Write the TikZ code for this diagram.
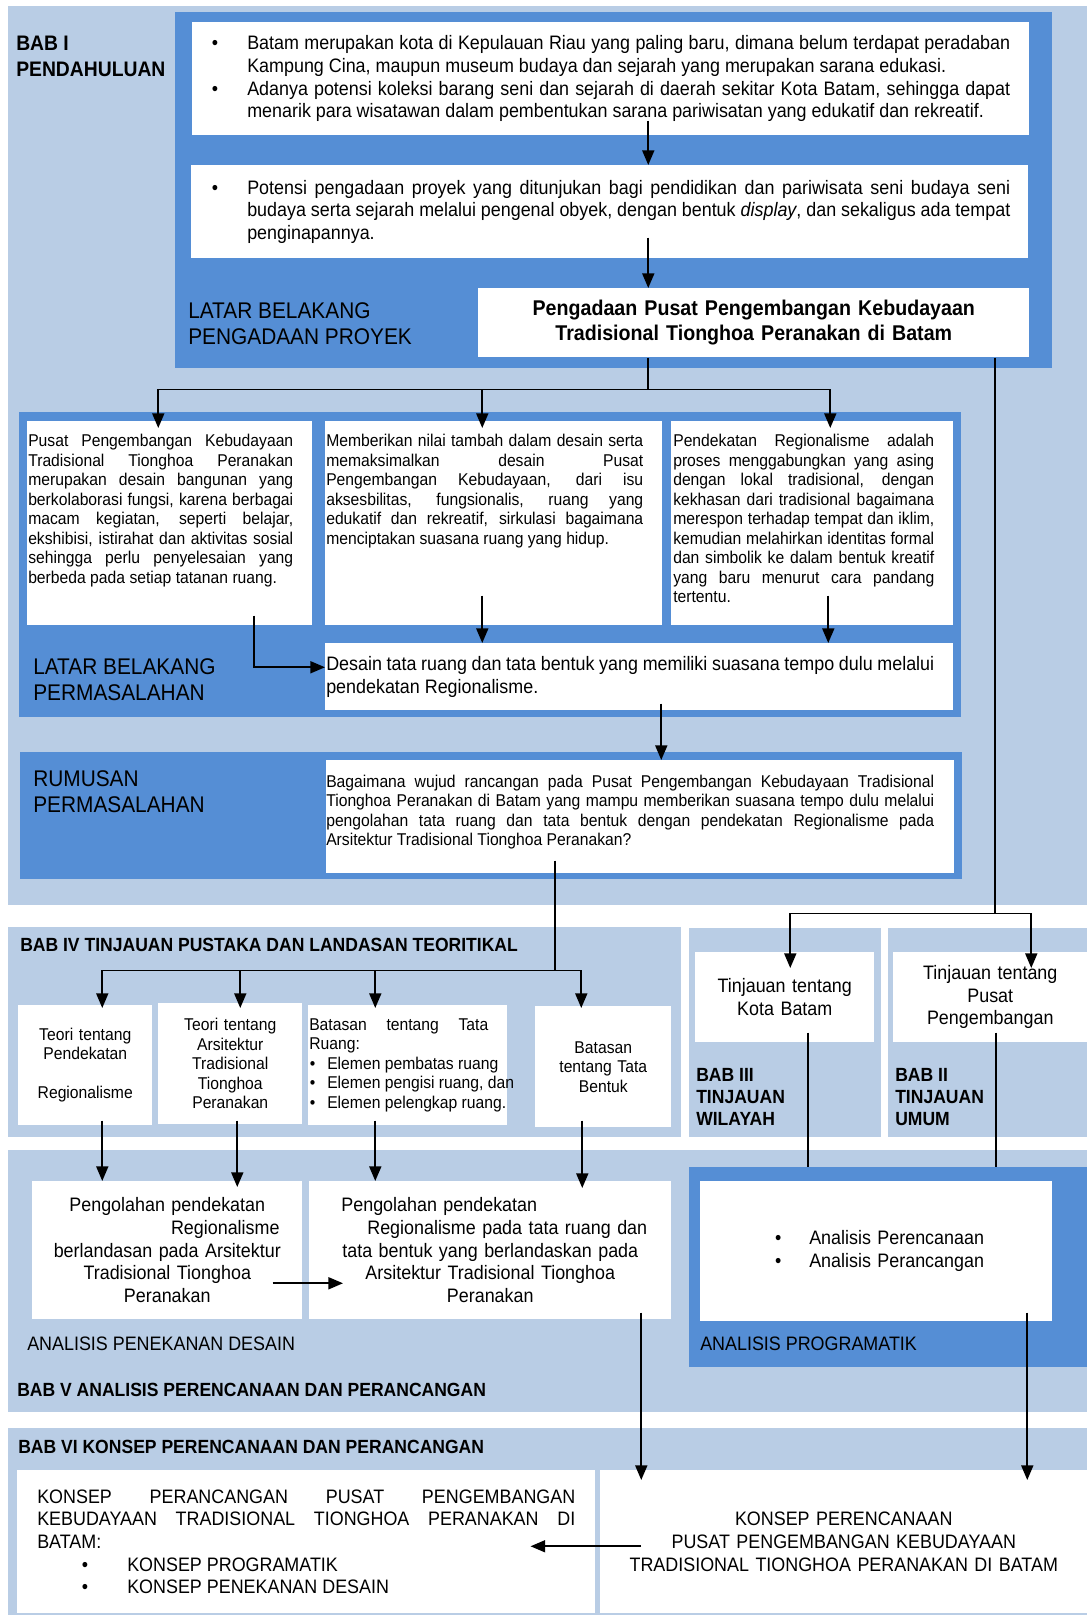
\documentclass[tikz,border=0pt]{standalone}
\usepackage{fontspec}
\setmainfont{Liberation Sans}[FakeStretch=0.92]
\usetikzlibrary{arrows.meta,calc}
\definecolor{lightb}{RGB}{185,205,229}
\definecolor{darkb}{RGB}{85,142,213}
\newlength{\px}
\setlength{\px}{0.75pt}
\hyphenpenalty=10000
\exhyphenpenalty=10000
\tolerance=10000
\hfuzz=20pt
\newcommand{\fmid}{\fontsize{14.6}{17}\selectfont}
\newcommand{\fsml}{\fontsize{12.8}{14.6}\selectfont}
\newcommand{\fbig}{\fontsize{17}{19.5}\selectfont}
\newcommand{\flab}{\fontsize{14.6}{17}\selectfont}
\newcommand{\fhead}{\fontsize{14.3}{16.5}\selectfont\bfseries}
\newcommand{\fbab}{\fontsize{15.75}{19.5}\selectfont\bfseries}
\newcommand{\ftitle}{\fontsize{16}{18.75}\selectfont\bfseries}
\newcommand{\bul}[1]{\leavevmode\llap{\textbullet\hspace{#1\px}}}

\begin{document}
\begin{tikzpicture}[x=0.75pt,y=-0.75pt,
    wbox/.style={fill=white, inner sep=0pt, anchor=north west, font=\fmid},
    boxsize/.style 2 args={minimum width=#1\px, text width=#1\px, minimum height=#2\px},
    lbl/.style={anchor=north west, inner sep=0pt, align=left},
    arr/.style={line width=1.4pt, -{Triangle[length=11pt,width=9pt]}},
    ln/.style={line width=1.4pt}]
    \fill[white] (0,0) rectangle (1087,1615);
    \useasboundingbox (0,0) rectangle (1087,1615);

    % panels
    \fill[lightb] (8,6) rectangle (1087,905);	%bab I
    \fill[lightb] (8,927) rectangle (681,1137);	%bab IV
    \fill[lightb] (689,928) rectangle (881,1137);	%bab III
    \fill[lightb] (888,928) rectangle (1087,1137);	%bab II
    \fill[lightb] (8,1150) rectangle (1087,1412);	%bab V
    \fill[lightb] (8,1428) rectangle (1087,1615);	%bab VI
    \fill[darkb] (175,12) rectangle (1052,368);
    \fill[darkb] (19,412) rectangle (961,717);
    \fill[darkb] (20,752) rectangle (962,879);
    \fill[darkb] (689,1167) rectangle (1087,1367);

    % labels
    \node[lbl, font=\fbab] (bab1) at (16,36) {BAB I\\PENDAHULUAN};
    \node[lbl, font=\fbig] (lbpp) at (188,302) {LATAR BELAKANG\\PENGADAAN PROYEK};
    \node[lbl, font=\fbig] (lbpm) at (33,658) {LATAR BELAKANG\\PERMASALAHAN};
    \node[lbl, font=\fbig] (rmlbl) at (33,770) {RUMUSAN\\PERMASALAHAN};
    \node[lbl, font=\fhead] (bab4) at (20,938) {BAB IV TINJAUAN PUSTAKA DAN LANDASAN TEORITIKAL};
    \node[lbl, font=\fhead] (bab3) at (696,1068) {BAB III\\TINJAUAN\\WILAYAH};
    \node[lbl, font=\fhead] (bab2) at (895,1068) {BAB II\\TINJAUAN\\UMUM};
    \node[lbl, font=\flab] (anpd) at (27,1337) {ANALISIS PENEKANAN DESAIN};
    \node[lbl, font=\flab] (anpg) at (700,1337) {ANALISIS PROGRAMATIK};
    \node[lbl, font=\fhead] (bab5) at (17,1383) {BAB V ANALISIS PERENCANAAN DAN PERANCANGAN};
    \node[lbl, font=\fhead] (bab6) at (18,1440) {BAB VI KONSEP PERENCANAAN DAN PERANCANGAN};

    % latar belakang pengadaan proyek
    \node[wbox, boxsize={837}{113}, align=justify] (ba) at (192,22) {\leftskip=55\px \rightskip=19\px
        \bul{29}Batam merupakan kota di Kepulauan Riau yang paling baru, dimana belum terdapat peradaban\linebreak
        Kampung Cina, maupun museum budaya dan sejarah yang merupakan sarana edukasi.\par
        \bul{29}Adanya potensi koleksi barang seni dan sejarah di daerah sekitar Kota Batam, sehingga dapat\linebreak
        menarik para wisatawan dalam pembentukan sarana pariwisatan yang edukatif dan rekreatif.\par};
    \node[wbox, boxsize={837}{93}, align=justify] (bb) at (191,165) {\leftskip=56\px \rightskip=18\px
        \bul{29}Potensi pengadaan proyek yang ditunjukan bagi pendidikan dan pariwisata seni budaya seni\linebreak
        budaya serta sejarah melalui pengenal obyek, dengan bentuk \textit{display}, dan sekaligus ada tempat\linebreak
        penginapannya.\par};
    \node[wbox, boxsize={551}{69}, align=center, font=\ftitle] (bc) at (478,288)
        {Pengadaan Pusat Pengembangan Kebudayaan\\Tradisional Tionghoa Peranakan di Batam};

    % latar belakang permasalahan
    \node[wbox, boxsize={285}{204}, font=\fsml, align=justify, text height=25.5\px, text depth=178.5\px] (pa) at (27,421)
        {\leftskip=1\px \rightskip=19\px Pusat Pengembangan Kebudayaan\linebreak Tradisional Tionghoa Peranakan\linebreak
        merupakan desain bangunan yang\linebreak berkolaborasi fungsi, karena berbagai\linebreak
        macam kegiatan, seperti belajar,\linebreak ekshibisi, istirahat dan aktivitas sosial\linebreak
        sehingga perlu penyelesaian yang\linebreak berbeda pada setiap tatanan ruang.\par};
    \node[wbox, boxsize={337}{204}, font=\fsml, align=justify, text height=25.5\px, text depth=178.5\px] (pb) at (325,421)
        {\leftskip=1\px \rightskip=19\px Memberikan nilai tambah dalam desain serta\linebreak memaksimalkan desain Pusat\linebreak
        Pengembangan Kebudayaan, dari isu\linebreak aksesbilitas, fungsionalis, ruang yang\linebreak
        edukatif dan rekreatif, sirkulasi bagaimana\linebreak menciptakan suasana ruang yang hidup.\par};
    \node[wbox, boxsize={282}{204}, font=\fsml, align=justify, text height=25.5\px, text depth=178.5\px] (pc) at (671,421)
        {\leftskip=2\px \rightskip=19\px Pendekatan Regionalisme adalah\linebreak proses menggabungkan yang asing\linebreak
        dengan lokal tradisional, dengan\linebreak kekhasan dari tradisional bagaimana\linebreak
        merespon terhadap tempat dan iklim,\linebreak kemudian melahirkan identitas formal\linebreak
        dan simbolik ke dalam bentuk kreatif\linebreak yang baru menurut cara pandang\linebreak tertentu.\par};
    \node[wbox, boxsize={628}{67}, align=justify] (pd) at (325,643)
        {\leftskip=1\px \rightskip=19\px Desain tata ruang dan tata bentuk yang memiliki suasana tempo dulu melalui\linebreak
        pendekatan Regionalisme.\par};

    % rumusan permasalahan
    \node[wbox, boxsize={628}{113}, font=\fsml, align=justify, text height=27\px, text depth=86\px] (rm) at (326,760)
        {\rightskip=20\px Bagaimana wujud rancangan pada Pusat Pengembangan Kebudayaan Tradisional\linebreak
        Tionghoa Peranakan di Batam yang mampu memberikan suasana tempo dulu melalui\linebreak
        pengolahan tata ruang dan tata bentuk dengan pendekatan Regionalisme pada\linebreak
        Arsitektur Tradisional Tionghoa Peranakan?\par};

    % bab IV, III, II
    \node[wbox, boxsize={134}{120}, font=\fsml, align=center] (ta) at (18,1005) {Teori tentang\\Pendekatan\\ \mbox{}\\Regionalisme};
    \node[wbox, boxsize={144}{121}, font=\fsml, align=center] (tb) at (158,1003) {Teori tentang\\Arsitektur\\Tradisional\\Tionghoa\\Peranakan};
    \node[wbox, boxsize={199}{120}, font=\fsml, align=justify] (tc) at (308,1005)
        {\leftskip=1\px \rightskip=19\px Batasan tentang Tata\linebreak Ruang:\par
        \leftskip=19\px \rightskip=0pt plus 1fil
        \bul{12}\mbox{Elemen pembatas ruang}\par\bul{12}\mbox{Elemen pengisi ruang, dan}\par
        \bul{12}\mbox{Elemen pelengkap ruang.}\par};
    \node[wbox, boxsize={136}{121}, font=\fsml, align=center] (td) at (535,1006) {Batasan\\tentang Tata\\Bentuk};
    \node[wbox, boxsize={179}{90}, align=center] (wk) at (695,952) {Tinjauan tentang\\Kota Batam};
    \node[wbox, boxsize={194}{90}, align=center] (wp) at (893,952) {Tinjauan tentang\\Pusat\\Pengembangan};

    % bab V
    \node[wbox, boxsize={270}{138}, align=center] (aa) at (32,1181)
        {Pengolahan pendekatan\\\rule{116\px}{0pt}Regionalisme\\berlandasan pada Arsitektur\\Tradisional Tionghoa\\Peranakan};
    \node[wbox, boxsize={362}{138}, align=center] (ab) at (309,1181)
        {Pengolahan pendekatan\rule{102\px}{0pt}\\\rule{34\px}{0pt}Regionalisme pada tata ruang dan\\tata bentuk yang berlandaskan pada\\Arsitektur Tradisional Tionghoa\\Peranakan};
    \node[wbox, boxsize={352}{140}, align=left] (ap) at (700,1181)
        {\leftskip=109\px \bul{28}Analisis Perencanaan\par\bul{28}Analisis Perancangan\par};

    % bab VI
    \node[wbox, boxsize={578}{143}, align=justify] (ka) at (17,1470)
        {\leftskip=20\px \rightskip=20\px KONSEP PERANCANGAN PUSAT PENGEMBANGAN\linebreak KEBUDAYAAN TRADISIONAL TIONGHOA PERANAKAN DI\linebreak BATAM:\par
        \leftskip=110\px \rightskip=0pt plus 1fil
        \bul{39}KONSEP PROGRAMATIK\par\bul{39}KONSEP PENEKANAN DESAIN\par};
    \node[wbox, boxsize={487}{143}, align=center] (kb) at (600,1470)
        {KONSEP PERENCANAAN\\PUSAT PENGEMBANGAN KEBUDAYAAN\\TRADISIONAL TIONGHOA PERANAKAN DI BATAM};

    % connectors
    \draw[arr] ($(ba.south)+(37.5,-15)$) -- ($(bb.north)+(38.5,0)$);
    \draw[arr] ($(bb.south)+(38.5,-21)$) -- ($(bc.north)+(-105.5,0)$);
    \coordinate (j1) at ($(bc.south)+(-105.5,32)$);
    \coordinate (pbin) at ($(pb.north)+(-11.5,7)$);
    \draw[ln] ($(bc.south)+(-105.5,0)$) -- (j1);
    \draw[arr] (j1) -| ($(pa.north)+(-11.5,7)$);
    \draw[arr] (j1 -| pbin) -- (pbin);
    \draw[arr] (j1) -| ($(pc.north)+(18,7)$);
    \coordinate (j2) at ($(bc.south)+(241.5,556)$);
    \draw[ln] ($(bc.south)+(241.5,0)$) -- (j2);
    \draw[arr] (j2) -| ($(wk.north)+(5.5,16)$);
    \draw[arr] (j2) -| ($(wp.north)+(41,16)$);

    \draw[arr] ($(pa.south)+(84.5,-10)$) |- ($(pd.west)+(0,-9.5)$);
    \draw[arr] ($(pb.south)+(-11.5,-30)$) -- ($(pd.north)+(-157,0)$);
    \draw[arr] ($(pc.south)+(16,-30)$) -- ($(pd.north)+(189,0)$);
    \draw[arr] ($(pd.south)+(22,-7)$) -- ($(rm.north)+(21,0)$);

    \coordinate (j3) at ($(rm.south)+(-85,97)$);
    \coordinate (tbin) at ($(tb.north)+(10,5)$);
    \coordinate (tcin) at ($(tc.north)+(-32.5,3)$);
    \draw[ln] ($(rm.south)+(-85,-13)$) -- (j3);
    \draw[arr] (j3) -| ($(ta.north)+(17,3)$);
    \draw[arr] (j3 -| tbin) -- (tbin);
    \draw[arr] (j3 -| tcin) -- (tcin);
    \draw[arr] (j3) -| ($(td.north)+(-22,2)$);

    \draw[arr] ($(ta.south)+(17,-5)$) -- ($(aa.north)+(-65,0)$);
    \draw[arr] ($(tb.south)+(7,-4)$) -- ($(aa.north)+(70,6)$);
    \draw[arr] ($(tc.south)+(-32.5,-5)$) -- ($(ab.north)+(-115,0)$);
    \draw[arr] ($(td.south)+(-21,-7)$) -- ($(ab.north)+(92,7)$);
    \draw[arr] ($(aa.east)+(-30,33)$) -- ($(ab.west)+(34,33)$);
    \draw[ln] ($(wk.south)+(23.5,-10)$) -- ($(ap.north)+(-68,-14)$);
    \draw[ln] ($(wp.south)+(6,-10)$) -- ($(ap.north)+(120,-14)$);

    \draw[arr] ($(ab.south)+(151,-7)$) -- ($(kb.north)+(-202.5,10)$);
    \draw[arr] ($(ap.south)+(151,-9)$) -- ($(kb.north)+(183.5,10)$);
    \draw[arr] ($(kb.west)+(41,4.5)$) -- ($(ka.east)+(-65,4.5)$);
\end{tikzpicture}
\end{document}
